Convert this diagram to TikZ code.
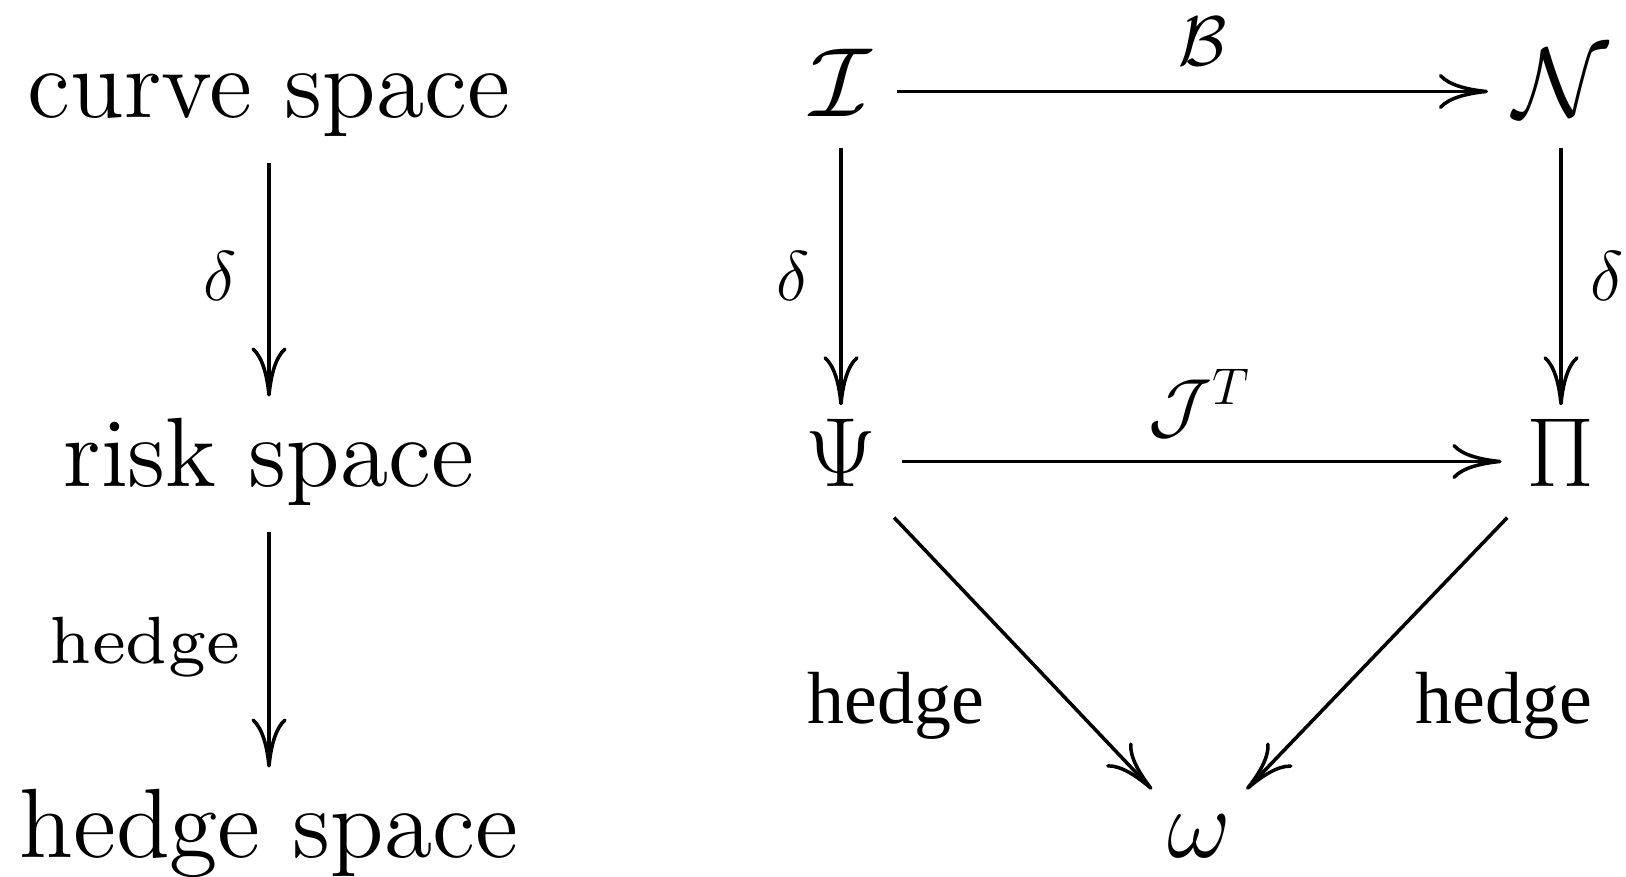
\RequirePackage{fix-cm}
\documentclass[tikz,border=0pt]{standalone}
\usepackage{fontspec}
\newfontfamily\timesfont{Liberation Serif}
\newfontfamily\lmtwelve[Extension=.otf]{lmroman12-regular}
\newfontfamily\lmseven[Extension=.otf]{lmroman7-regular}
\usetikzlibrary{arrows.meta}
\begin{document}
\begin{tikzpicture}[x=0.01cm,y=-0.01cm,every node/.style={inner sep=0pt},
    space/.style={font=\lmtwelve\fontsize{28}{34}\selectfont,anchor=base,text height=20pt,text depth=7pt,inner xsep=4pt,inner ysep=5.5pt},
    obj/.style={font=\fontsize{28}{34}\selectfont,anchor=base,text height=21pt,text depth=6.5pt,inner xsep=7pt,inner ysep=2pt},
    lbl/.style={font=\fontsize{20}{24}\selectfont,anchor=base},
    slbl/.style={font=\lmseven\fontsize{19}{23}\selectfont,anchor=base},
    tlbl/.style={font=\timesfont\fontsize{21}{25}\selectfont,anchor=base},
    map/.style={line width=1pt,-{To[length=14pt,width=10pt]}}]
    \useasboundingbox (0,0) rectangle (1626,877);
    \node[space] (curve) at (269,118) {curve space};
    \node[space] (risk) at (269,487) {risk space};
    \node[space] (hedgesp) at (269,858) {hedge space};
    \node[lbl] (d0) at (220,301) {$\delta$};
    \node[slbl] (h0) at (145,664) {hedge};
    \draw[map] (curve) -- (risk);
    \draw[map] (risk) -- (hedgesp);
    \node[obj] (I) at (841,117) {$\mathcal{I}$};
    \node[obj] (N) at (1561,117) {$\mathcal{N}$};
    \node[obj] (Psi) at (841,487) {$\Psi$};
    \node[obj] (Pi) at (1561,487) {$\Pi$};
    \node[obj,text height=17.3pt] (omega) at (1199,858) {$\omega$};
    \node[lbl] (B) at (1203,66) {$\mathcal{B}$};
    \node[lbl,font=\fontsize{21}{25}\selectfont] (JT) at (1200,431) {$\mathcal{J}^T$};
    \node[lbl] (d1) at (793,301) {$\delta$};
    \node[lbl] (d2) at (1607,301) {$\delta$};
    \node[tlbl] (h1) at (896,724) {hedge};
    \node[tlbl] (h2) at (1504,724) {hedge};
    \draw[map] (I) -- (N);
    \draw[map] (Psi) -- (Pi);
    \draw[map] (I) -- (Psi);
    \draw[map] (N) -- (Pi);
    \draw[map] (Psi) -- (omega);
    \draw[map] (Pi) -- (omega);
\end{tikzpicture}
\end{document}
